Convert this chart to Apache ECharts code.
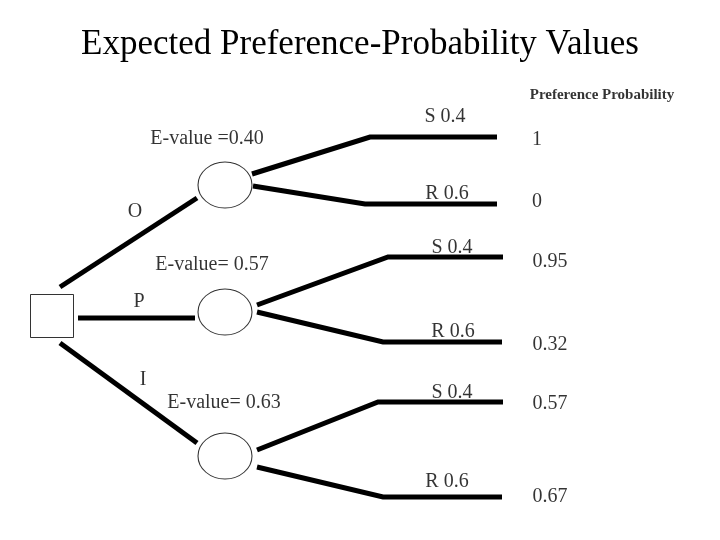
<!DOCTYPE html>
<html>
<head>
<meta charset="utf-8">
<script src="https://cdn.jsdelivr.net/npm/echarts@6/dist/echarts.min.js"></script>
<style>html,body{margin:0;background:#fff}#main{width:720px;height:540px}</style>
</head>
<body>
<div id="main"></div>
<script>
// tree paths (in picture units, y downward)
var branches = [
  [[60, 287], [197, 198]],
  [[78, 318], [195, 318]],
  [[60, 343], [197, 443]],
  [[252, 174], [370, 137], [497, 137]],
  [[253, 186], [365, 204], [497, 204]],
  [[257, 305], [388, 257], [503, 257]],
  [[257, 312], [383, 342], [502, 342]],
  [[257, 450], [378, 402], [503, 402]],
  [[257, 467], [383, 497], [502, 497]]
]
var chanceNodes = [[225, 185], [225, 312], [225, 456]]
var decisionNode = [[52, 316]]
var labels = [
  ['E-value =0.40', 207, 139], ['E-value= 0.57', 212, 265], ['E-value= 0.63', 224, 403],
  ['O', 135, 212], ['P', 139, 302], ['I', 143, 380],
  ['S 0.4', 445, 117], ['R 0.6', 447, 194], ['S 0.4', 452, 248],
  ['R 0.6', 453, 332], ['S 0.4', 452, 393], ['R 0.6', 447, 482]
]
var probs = [['1', 537, 140], ['0', 537, 202], ['0.95', 550, 262], ['0.32', 550, 345], ['0.57', 550, 404], ['0.67', 550, 497]]

var serif = 'Liberation Serif'
var mychart = echarts.init(document.getElementById('main'))
var textPoint = function (arr, size, weight) {
  return {
    type: 'scatter',
    symbolSize: 0,
    silent: true,
    data: arr.map(function (l) { return { value: [l[1], l[2]], name: l[0] } }),
    label: {
      show: true,
      position: 'inside',
      formatter: '{b}',
      color: '#000',
      fontFamily: serif,
      fontSize: size,
      fontWeight: weight || 'normal'
    }
  }
}
var option = {
  animation: false,
  title: {
    text: 'Expected Preference-Probability Values',
    left: 'center',
    top: 22,
    textStyle: { fontFamily: serif, fontSize: 35, fontWeight: 'normal', color: '#000' }
  },
  grid: { left: 0, right: 0, top: 0, bottom: 0 },
  xAxis: { type: 'value', min: 0, max: 720, show: false },
  yAxis: { type: 'value', min: 0, max: 540, inverse: true, show: false },
  series: [
    {
      type: 'lines',
      coordinateSystem: 'cartesian2d',
      polyline: true,
      lineStyle: { color: '#000', width: 5, opacity: 1 },
      data: branches.map(function (b) { return { coords: b } })
    },
    {
      type: 'scatter',
      symbol: 'circle',
      symbolSize: [54, 46],
      itemStyle: { color: '#fff', borderColor: '#000', borderWidth: 1 },
      data: chanceNodes
    },
    {
      type: 'scatter',
      symbol: 'rect',
      symbolSize: 43,
      itemStyle: { color: '#fff', borderColor: '#000', borderWidth: 1 },
      data: decisionNode
    },
    textPoint(labels, 20),
    textPoint(probs, 20),
    textPoint([['Preference Probability', 602, 95]], 15, 'bold')
  ]
}
mychart.setOption(option)
</script>
</body>
</html>
